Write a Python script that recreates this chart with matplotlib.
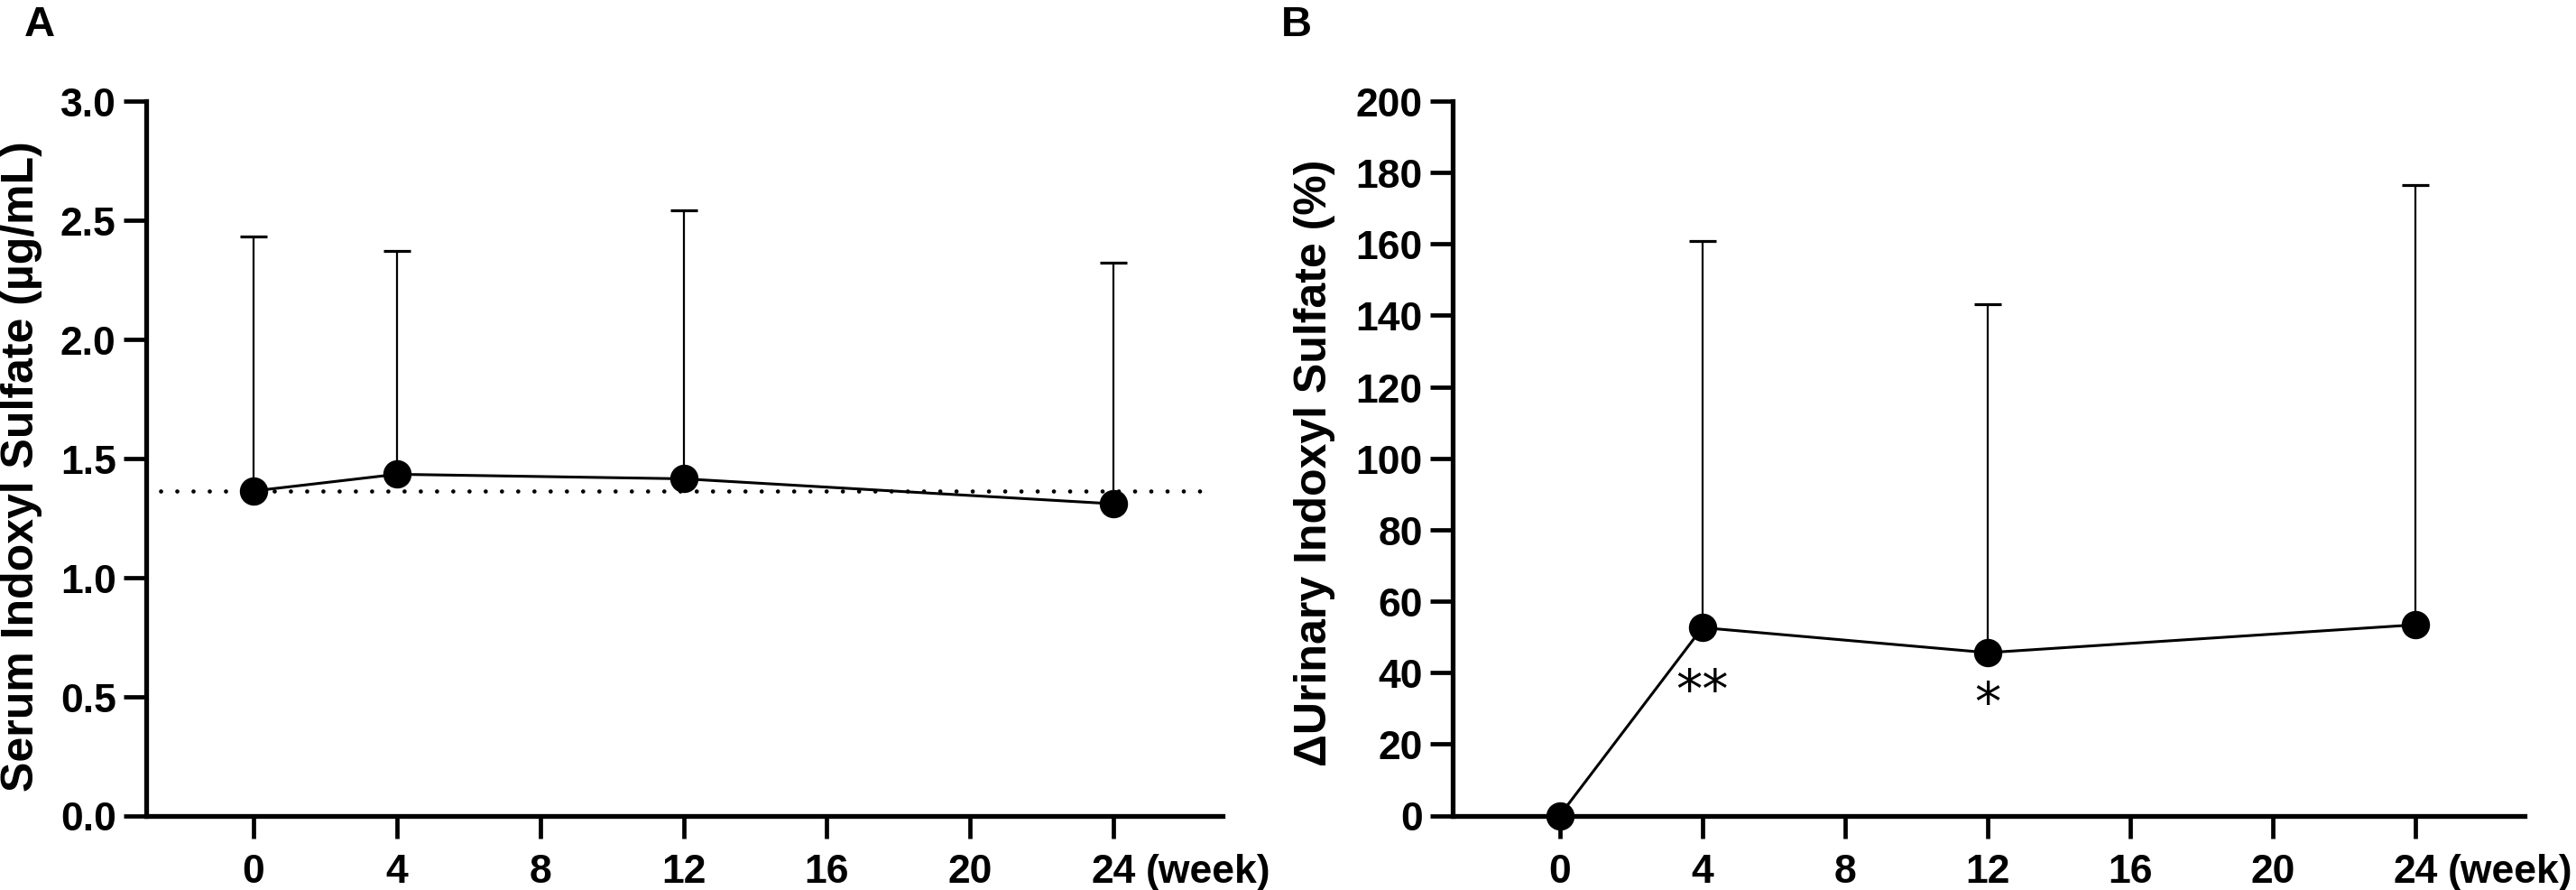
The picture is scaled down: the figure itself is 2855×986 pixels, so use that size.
import matplotlib
matplotlib.use("Agg")
import matplotlib.pyplot as plt
import numpy as np

# ---------------- data ----------------
weeks = [0, 4, 12, 24]
xticks = [0, 4, 8, 12, 16, 20, 24]

serum_mean = [1.363, 1.433, 1.414, 1.309]
serum_upper = [2.433, 2.371, 2.541, 2.321]   # top of error bar
serum_baseline = 1.363

urine_mean = [0.0, 52.6, 45.6, 53.4]
urine_upper = [0.0, 160.9, 143.1, 176.6]      # top of error bar
stars = ["", "**", "*", ""]
star_y = [None, 30.5, 27.0, None]

plt.rcParams['font.family'] = ['Liberation Sans', 'DejaVu Sans']
plt.rcParams['font.weight'] = 'bold'

fig = plt.figure(figsize=(28.55, 9.87), dpi=100)

SPINE_LW = 3.8
TICK_LEN = 18
TICK_W = 3.4
FS = 32

def style(ax, ylim, yticks, yfmt):
    ax.set_xlim(-3, 27.05)
    ax.set_ylim(*ylim)
    for s in ['top', 'right']:
        ax.spines[s].set_visible(False)
    ax.spines['left'].set_linewidth(SPINE_LW)
    ax.spines['bottom'].set_linewidth(SPINE_LW)
    ax.spines['left'].set_bounds(ylim[0], ylim[1])
    ax.spines['left'].set_capstyle('projecting')
    ax.set_xticks(xticks)
    ax.set_xticklabels([str(t) for t in xticks])
    ax.set_yticks(yticks)
    ax.set_yticklabels([yfmt.format(v) for v in yticks])
    ax.tick_params(axis='x', direction='out', length=TICK_LEN, width=TICK_W,
                   labelsize=FS, pad=12)
    ax.tick_params(axis='y', direction='out', length=TICK_LEN, width=TICK_W,
                   labelsize=FS, pad=6)
    for lab in ax.get_xticklabels() + ax.get_yticklabels():
        lab.set_fontweight('bold')
    # (week) unit text aligned with x tick labels
    trans, va, ha = ax.get_xaxis_text1_transform(TICK_LEN + 12)
    ax.text(24.9, 0, "(week)", transform=trans, va=va, ha='left',
            fontsize=FS, fontweight='bold')

def draw(ax, x, mean, upper):
    mean = np.asarray(mean)
    upper = np.asarray(upper)
    err = np.vstack([np.zeros_like(mean), upper - mean])
    ax.errorbar(x, mean, yerr=err, fmt='none', ecolor='black',
                elinewidth=1.6, capsize=10.8, capthick=2.3, zorder=2)
    ax.plot(x, mean, color='black', lw=2.2, marker='o', markersize=21.6,
            markerfacecolor='black', markeredgecolor='black', zorder=3,
            clip_on=False)

# ---------------- panel A ----------------
axA = fig.add_axes([162/2855, 1-904.5/987, (1355-162)/2855, (904.5-113)/987])
style(axA, (0, 3.0), [0.0, 0.5, 1.0, 1.5, 2.0, 2.5, 3.0], "{:.1f}")
axA.plot([-2.6, 26.8], [serum_baseline, serum_baseline], color='black',
         lw=3.4, linestyle=(0, (0.01, 3.8)), dash_capstyle='round', zorder=1)
draw(axA, weeks, serum_mean, serum_upper)
axA.set_ylabel("Serum Indoxyl Sulfate (µg/mL)", fontsize=36, fontweight='bold')
axA.yaxis.set_label_coords(-0.0964, 0.49)

# ---------------- panel B ----------------
axB = fig.add_axes([1610/2855, 1-904.5/987, (2798-1610)/2855, (904.5-113)/987])
style(axB, (0, 200), list(range(0, 201, 20)), "{:d}")
draw(axB, weeks, urine_mean, urine_upper)
for xi, s, sy in zip(weeks, stars, star_y):
    if s:
        axB.text(xi, sy, s, ha='center', va='baseline', fontsize=42,
                 fontweight='normal', family='DejaVu Sans')
axB.set_ylabel("ΔUrinary Indoxyl Sulfate (%)", fontsize=36, fontweight='bold')
axB.yaxis.set_label_coords(-0.1094, 0.495)

# panel letters
fig.text(27/2855, 1-40/987, "A", fontsize=34, fontweight='bold', va='baseline')
fig.text(1420/2855, 1-40/987, "B", fontsize=34, fontweight='bold', va='baseline')

fig.savefig("out.png", dpi=100)
